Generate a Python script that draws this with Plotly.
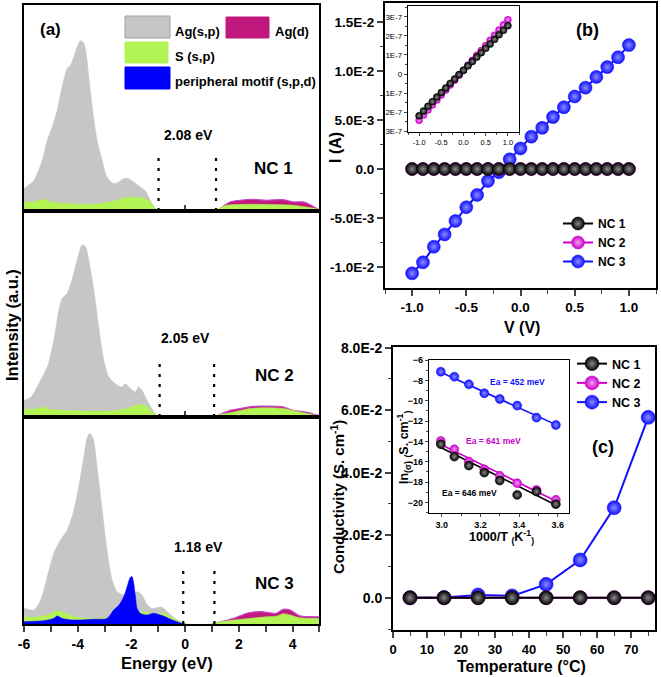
import plotly.graph_objects as go

W, H = 661, 677
def fx(p): return p / W
def fy(p): return 1 - p / H

FONT = "Liberation Sans"

# ---------------- panel (a): PDOS ----------------
nc1_agsp_E = [-6.00,-5.63,-5.32,-5.13,-4.95,-4.76,-4.58,-4.39,-4.27,-4.14,-4.02,-3.90,-3.77,-3.67,-3.59,-3.46,-3.28,-3.09,-2.91,-2.66,-2.47,-2.29,-2.10,-1.92,-1.67,-1.48,-1.36,-1.17,-1.05,-0.95]
nc1_agsp_I = [10.9,14.9,24.6,34.4,40.8,48.9,60.3,69.2,70.8,74.9,79.7,82.7,81.4,74.9,65.2,50.6,34.4,24.6,16.5,13.3,14.1,15.7,15.7,14.1,11.7,9.7,6.8,2.3,0.3,0.0]
nc1_s_E = [-6.0,-5.63,-5.26,-5.01,-4.39,-3.77,-3.15,-2.54,-2.16,-1.67,-1.36,-1.11,-1.02,-0.9,0.9,1.06,1.55,2.04,3.03,4.02,4.88,5.0]
nc1_s_I = [4.4,4.4,5.7,4.4,3.6,3.2,3.6,5.2,6.5,6.5,5.2,1.1,0.2,0,0,0.2,2.8,3.2,3.2,2.8,1.1,0.5]
nc1_agd_E = [1.0,1.18,1.67,2.04,2.54,3.03,3.65,4.02,4.39,4.70,4.97,5.0]
nc1_agd_I = [0,0.3,4.4,5.2,5.7,5.2,5.5,4.4,4.4,2.8,0.6,0.4]

nc2_agsp_E = [-6.0,-5.75,-5.32,-5.13,-4.89,-4.70,-4.58,-4.39,-4.21,-4.02,-3.83,-3.71,-3.59,-3.40,-3.22,-3.03,-2.84,-2.60,-2.35,-2.23,-2.04,-1.85,-1.73,-1.61,-1.42,-1.24,-1.11,-1.05,-0.95]
nc2_agsp_I = [8.0,9.5,19.4,24.3,37.3,51.9,57.5,60.1,66.6,76.2,83.5,82.7,76.2,61.6,43.8,27.6,19.4,16.2,14.6,16.2,13.8,12.2,14.6,13.0,8.1,4.1,1.6,0.8,0.0]
nc2_s_E = [-6.0,-5.63,-5.26,-5.01,-4.39,-3.77,-3.15,-2.54,-2.16,-1.79,-1.48,-1.24,-1.05,-0.95,1.0,1.18,1.80,2.42,3.03,3.65,4.27,4.88,5.0]
nc2_s_I = [4.1,3.6,4.9,3.6,3.2,2.9,2.8,3.2,4.1,5.7,5.7,2.4,0.8,0,0,0.8,2.4,4.1,4.5,4.1,2.4,0.8,0.5]
nc2_agd_E = [1.0,1.15,1.67,2.04,2.54,3.03,3.65,4.02,4.51,4.88,5.0]
nc2_agd_I = [0,0.5,3.2,4.1,5.2,5.3,4.9,3.2,2.4,1.1,0.8]

nc3_agsp_E = [-6.0,-5.63,-5.38,-5.13,-4.89,-4.64,-4.39,-4.14,-3.96,-3.77,-3.65,-3.55,-3.43,-3.28,-3.09,-2.91,-2.72,-2.53,-2.29,-2.04,-1.79,-1.61,-1.42,-1.24,-1.05,-0.86,-0.68,-0.43,-0.18,-0.06,0.05]
nc3_agsp_I = [7.6,6.8,11.6,22.9,34.1,40.6,45.4,55.1,66.3,80.8,89.7,92.1,89.7,76.0,55.1,35.7,21.3,15.6,14.0,13.2,15.6,14.0,9.5,7.5,7.8,8.1,6.0,3.2,1.1,0.3,0.0]
nc3_s_E = [-6.0,-5.63,-5.13,-4.76,-4.51,-4.14,-3.65,-3.15,-2.78,-2.4,-1.54,-1.36,-1.05,-0.80,-0.55,-0.18,-0.06,0.05,1.0,1.15,1.80,2.42,3.03,3.4,3.65,3.9,4.27,4.88,5.0]
nc3_s_I = [3.5,3.2,4.3,6.4,5.5,3.5,2.7,2.7,3.2,3.5,6.0,5.2,4.8,5.2,3.5,1.1,0.3,0,0,0.6,1.9,2.7,3.5,3.8,5.0,4.4,3.0,2.7,2.7]
nc3_agd_E = [1.0,1.1,1.8,2.3,2.79,3.40,3.65,3.90,4.27,4.6,5.0]
nc3_agd_I = [0,0.3,2.7,5.2,6.0,5.2,7.1,6.8,3.9,3.6,3.5]
nc3_per_E = [-6.0,-5.26,-4.89,-4.76,-4.58,-4.14,-3.4,-2.91,-2.66,-2.47,-2.29,-2.16,-2.04,-1.98,-1.92,-1.85,-1.79,-1.67,-1.42,-1.17,-0.93,-0.74,-0.55,-0.30,-0.12,0.0]
nc3_per_I = [1.1,1.6,2.7,3.9,2.7,1.9,2.3,2.7,6.8,9.0,13.0,18.0,22.5,22.9,20.0,13.0,7.5,5.2,4.3,5.2,4.3,3.5,2.3,1.1,0.3,0.0]

gap_lo = [-0.99, -0.95, -0.07]
gap_hi = [1.15, 1.08, 1.09]
gap_top = [28.6, 28.4, 27.7]
gap_labels = ["2.08 eV", "2.05 eV", "1.18 eV"]
nc_labels = ["NC 1", "NC 2", "NC 3"]
energy_ticks = [-6, -4, -2, 0, 2, 4]
energy_ticktext = ["-6", "-4", "-2", "0", "2", "4"]

# ---------------- panel (b): I-V ----------------
V = [-1.0,-0.9,-0.8,-0.7,-0.6,-0.5,-0.4,-0.3,-0.2,-0.1,0.0,0.1,0.2,0.3,0.4,0.5,0.6,0.7,0.8,0.9,1.0]
I_nc3 = [-0.01064,-0.00952,-0.00793,-0.00667,-0.0053,-0.0039,-0.00265,-0.00122,-0.00033,0.00099,0.0021,0.0033,0.0042,0.0053,0.0063,0.0074,0.0083,0.0094,0.0104,0.0114,0.01265]
I_nc1 = [-2.19e-7,-1.94e-7,-1.69e-7,-1.45e-7,-1.21e-7,-0.97e-7,-0.73e-7,-0.49e-7,-0.26e-7,-0.03e-7,0.20e-7,0.43e-7,0.66e-7,0.89e-7,1.12e-7,1.35e-7,1.58e-7,1.82e-7,2.06e-7,2.30e-7,2.54e-7]
I_nc2 = [-2.42e-7,-2.15e-7,-1.88e-7,-1.62e-7,-1.36e-7,-1.10e-7,-0.84e-7,-0.58e-7,-0.32e-7,-0.06e-7,0.20e-7,0.46e-7,0.72e-7,0.98e-7,1.24e-7,1.50e-7,1.77e-7,2.04e-7,2.31e-7,2.58e-7,2.85e-7]
b_yticks = [-0.01, -0.005, 0.0, 0.005, 0.01, 0.015]
b_yticktext = ["-1.0E-2", "-5.0E-3", "0.0", "5.0E-3", "1.0E-2", "1.5E-2"]
v_ticks = [-1.0, -0.5, 0.0, 0.5, 1.0]
v_ticktext = ["-1.0", "-0.5", "0.0", "0.5", "1.0"]
bi_yticks = [-3e-7, -2e-7, -1e-7, 0, 1e-7, 2e-7, 3e-7]
bi_yticktext = ["-3E-7", "-2E-7", "-1E-7", "0", "1E-7", "2E-7", "3E-7"]

# ---------------- panel (c): conductivity ----------------
T = [5, 15, 25, 35, 45, 55, 65, 75]
cond_nc3 = [0.0, 0.0001, 0.0009, 0.0006, 0.0043, 0.0121, 0.0288, 0.0577]
cond_nc2 = [0.0, 0.0, 0.00001, 0.00001, 0.00002, 0.00002, 0.00003, 0.00004]
cond_nc1 = [0.0, 0.0, 0.00001, 0.00001, 0.00001, 0.00002, 0.00002, 0.00003]
c_yticks = [0.0, 0.02, 0.04, 0.06, 0.08]
c_yticktext = ["0.0", "2.0E-2", "4.0E-2", "6.0E-2", "8.0E-2"]
c_xticks = [0, 10, 20, 30, 40, 50, 60, 70]

invT = [2.995, 3.065, 3.14, 3.22, 3.30, 3.39, 3.49, 3.59]
ln_nc3 = [-7.15, -7.64, -8.39, -9.27, -9.83, -10.48, -11.66, -12.38]
ln_nc2 = [-13.95, -14.77, -15.98, -16.73, -17.38, -18.10, -18.76, -19.74]
ln_nc1 = [-14.27, -15.49, -16.37, -17.06, -17.84, -19.25, -18.92, -20.16]
fit_x = [2.995, 3.59]
fit_nc3 = [-7.2, -12.35]
fit_nc2 = [-14.3, -19.85]
fit_nc1 = [-14.6, -20.25]
ci_xticks = [3.0, 3.2, 3.4, 3.6]
ci_xticktext = ["3.0", "3.2", "3.4", "3.6"]
ci_yticks = [-20, -18, -16, -14, -12, -10, -8, -6]

GRAY, GREEN, MAG, BLUE = "#c6c6c6", "#b2f454", "#c0187c", "#0000ff"
C_BLACK, C_MAG, C_BLUE = "#000000", "#cc00cc", "#1010ff"

fig = go.Figure()

def area(E, I, fill, xa, ya, lc=None, lw=0.6):
    fig.add_trace(go.Scatter(x=E, y=I, mode="lines", fill="tozeroy", fillcolor=fill,
                             line=dict(color=lc or fill, width=lw, shape="spline", smoothing=0.8),
                             xaxis=xa, yaxis=ya, showlegend=False, hoverinfo="skip"))

panels = [
    ("x", "y", nc1_agsp_E, nc1_agsp_I, nc1_s_E, nc1_s_I, nc1_agd_E, nc1_agd_I, None, None),
    ("x2", "y2", nc2_agsp_E, nc2_agsp_I, nc2_s_E, nc2_s_I, nc2_agd_E, nc2_agd_I, None, None),
    ("x3", "y3", nc3_agsp_E, nc3_agsp_I, nc3_s_E, nc3_s_I, nc3_agd_E, nc3_agd_I, nc3_per_E, nc3_per_I),
]
for k, (xa, ya, gE, gI, sE, sI, dE, dI, pE, pI) in enumerate(panels):
    area(gE, gI, GRAY, xa, ya)
    area(dE, dI, MAG, xa, ya, lc="#c848c8", lw=1.2)
    area(sE, sI, GREEN, xa, ya)
    if pE is not None:
        area(pE, pI, BLUE, xa, ya)
    for xv in (gap_lo[k], gap_hi[k]):
        fig.add_trace(go.Scatter(x=[xv, xv], y=[0, gap_top[k]], mode="lines",
                                 line=dict(color="black", width=2.2, dash="3px,7px"),
                                 xaxis=xa, yaxis=ya, showlegend=False, hoverinfo="skip"))

# ---- panel (b)
grad = {C_BLACK: "#8a8a8a", C_MAG: "#eea0ee", C_BLUE: "#8c8cff"}
for name, I, col, rank in [("NC 3", I_nc3, C_BLUE, 3), ("NC 2", I_nc2, C_MAG, 2), ("NC 1", I_nc1, C_BLACK, 1)]:
    fig.add_trace(go.Scatter(x=V, y=I, mode="lines+markers", name=name,
                             line=dict(color=col, width=2),
                             marker=dict(size=13, color=col, gradient=dict(type="radial", color=grad[col]),
                                         line=dict(width=0.5, color=col)),
                             xaxis="x4", yaxis="y4", legend="legend", legendrank=rank))
for I, col in [(I_nc2, C_MAG), (I_nc1, C_BLACK)]:
    fig.add_trace(go.Scatter(x=V, y=I, mode="lines+markers", line=dict(color=col, width=1),
                             marker=dict(size=7, color=col, gradient=dict(type="radial", color=grad[col]),
                                         line=dict(width=0.5, color=col)),
                             xaxis="x5", yaxis="y5", showlegend=False))

# ---- panel (c)
for name, cnd, col, rank in [("NC 3", cond_nc3, C_BLUE, 3), ("NC 2", cond_nc2, C_MAG, 2), ("NC 1", cond_nc1, C_BLACK, 1)]:
    fig.add_trace(go.Scatter(x=T, y=cnd, mode="lines+markers", name=name,
                             line=dict(color=col, width=2),
                             marker=dict(size=14, color=col, gradient=dict(type="radial", color=grad[col]),
                                         line=dict(width=0.5, color=col)),
                             xaxis="x6", yaxis="y6", legend="legend2", legendrank=rank))
for fy_, col in [(fit_nc3, C_BLUE), (fit_nc2, C_MAG), (fit_nc1, C_BLACK)]:
    fig.add_trace(go.Scatter(x=fit_x, y=fy_, mode="lines", line=dict(color=col, width=1.6),
                             xaxis="x7", yaxis="y7", showlegend=False))
for lv, col in [(ln_nc3, C_BLUE), (ln_nc2, C_MAG), (ln_nc1, C_BLACK)]:
    fig.add_trace(go.Scatter(x=invT, y=lv, mode="markers",
                             marker=dict(size=9, color=col, gradient=dict(type="radial", color=grad[col]),
                                         line=dict(width=0.5, color=col)),
                             xaxis="x7", yaxis="y7", showlegend=False))

def tf(size, bold=True):
    return dict(family=FONT, size=size, color="black", weight="bold" if bold else "normal")

frame = dict(showline=True, linecolor="black", mirror=True, showgrid=False, zeroline=False, automargin=False)

ax_a_x = [fx(24), fx(319.4)]
fig.update_layout(
    xaxis=dict(**frame, linewidth=2, domain=ax_a_x, anchor="y", range=[-6, 5], tickvals=[0],
               ticks="inside", ticklen=6, tickwidth=1.5, showticklabels=False),
    yaxis=dict(**frame, linewidth=2, domain=[fy(211), fy(5)], anchor="x", range=[0, 100], showticklabels=False, ticks=""),
    xaxis2=dict(**frame, linewidth=2, domain=ax_a_x, anchor="y2", range=[-6, 5], tickvals=[0],
                ticks="inside", ticklen=6, tickwidth=1.5, showticklabels=False),
    yaxis2=dict(**frame, linewidth=2, domain=[fy(417), fy(211)], anchor="x2", range=[0, 100], showticklabels=False, ticks=""),
    xaxis3=dict(**frame, linewidth=2, domain=ax_a_x, anchor="y3", range=[-6, 5], tickvals=energy_ticks,
                ticktext=energy_ticktext, ticks="outside", ticklen=6, tickwidth=1.5, tickfont=tf(14),
                minor=dict(dtick=1, tick0=0, ticks="outside", ticklen=6, tickwidth=1.5)),
    yaxis3=dict(**frame, linewidth=2, domain=[fy(624), fy(417)], anchor="x3", range=[0, 100], showticklabels=False, ticks=""),

    xaxis4=dict(**frame, linewidth=2, domain=[fx(385), fx(656)], anchor="y4", range=[-1.25, 1.25],
                tickvals=v_ticks, ticktext=v_ticktext, ticks="outside", ticklen=6, tickwidth=1.5, tickfont=tf(13.5),
                minor=dict(dtick=0.25, tick0=0, ticks="outside", ticklen=3.5, tickwidth=1.2)),
    yaxis4=dict(**frame, linewidth=2, domain=[fy(288), fy(3)], anchor="x4", range=[-0.01214, 0.01694],
                tickvals=b_yticks, ticktext=b_yticktext, ticks="outside", ticklen=6, tickwidth=1.5, tickfont=tf(13.5),
                minor=dict(dtick=0.0025, tick0=0, ticks="outside", ticklen=3.5, tickwidth=1.2)),
    xaxis5=dict(**frame, linewidth=1.2, domain=[fx(408), fx(519)], anchor="y5", range=[-1.25, 1.25],
                tickvals=v_ticks, ticktext=v_ticktext, ticks="outside", ticklen=3, tickwidth=1, tickfont=tf(7.5, False),
                minor=dict(dtick=0.25, tick0=0, ticks="outside", ticklen=2, tickwidth=1)),
    yaxis5=dict(**frame, linewidth=1.2, domain=[fy(132), fy(6)], anchor="x5", range=[-3.04e-7, 3.57e-7],
                tickvals=bi_yticks, ticktext=bi_yticktext, ticks="outside", ticklen=3, tickwidth=1, tickfont=tf(8, False),
                minor=dict(dtick=0.5e-7, tick0=0, ticks="outside", ticklen=2, tickwidth=1)),

    xaxis6=dict(**frame, linewidth=2, domain=[fx(393), fx(655)], anchor="y6", range=[0, 77],
                tickvals=c_xticks, ticks="outside", ticklen=6, tickwidth=1.5, tickfont=tf(13),
                minor=dict(dtick=5, tick0=0, ticks="outside", ticklen=3.5, tickwidth=1.2)),
    yaxis6=dict(**frame, linewidth=2, domain=[fy(630), fy(347)], anchor="x6", range=[-0.0103, 0.0802],
                tickvals=c_yticks, ticktext=c_yticktext, ticks="outside", ticklen=6, tickwidth=1.5, tickfont=tf(14),
                minor=dict(dtick=0.01, tick0=0, ticks="outside", ticklen=3.5, tickwidth=1.2)),
    xaxis7=dict(**frame, linewidth=1.2, domain=[fx(429), fx(569)], anchor="y7", range=[2.934, 3.658],
                tickvals=ci_xticks, ticktext=ci_xticktext, ticks="outside", ticklen=3, tickwidth=1, tickfont=tf(9),
                minor=dict(dtick=0.1, tick0=0, ticks="outside", ticklen=2, tickwidth=1)),
    yaxis7=dict(**frame, linewidth=1.2, domain=[fy(513), fy(360)], anchor="x7", range=[-21.03, -6.0],
                tickvals=ci_yticks, ticks="outside", ticklen=3, tickwidth=1, tickfont=tf(9),
                minor=dict(dtick=1, tick0=0, ticks="outside", ticklen=2, tickwidth=1)),

    legend=dict(x=fx(558), y=fy(209), xanchor="left", yanchor="top", font=tf(12),
                bgcolor="rgba(0,0,0,0)", tracegroupgap=0),
    legend2=dict(x=fx(572), y=fy(349), xanchor="left", yanchor="top", font=tf(12.5),
                 bgcolor="rgba(0,0,0,0)", tracegroupgap=0),
    width=W, height=H, margin=dict(l=0, r=0, t=0, b=0, pad=0, autoexpand=False),
    paper_bgcolor="white", plot_bgcolor="white",
)

ann = []
def A(text, x, y, size, color="black", bold=True, angle=0, xanchor="center"):
    ann.append(dict(text=text, x=fx(x), y=fy(y), xref="paper", yref="paper", showarrow=False,
                    font=tf(size, bold) | dict(color=color), textangle=angle, xanchor=xanchor, yanchor="middle"))

A("(a)", 50, 29, 17)
gap_pos = [(188, 135), (185, 338), (198, 547)]
nc_pos = [(273, 168), (274, 375), (274, 583)]
for k in range(3):
    A(gap_labels[k], *gap_pos[k], 14)
    A(nc_labels[k], *nc_pos[k], 17)
A("Energy (eV)", 167, 663, 16.5)
A("Intensity (a.u.)", 12, 325, 16.5, angle=-90)

# panel (a) legend
shapes = []
for (x0, y0, x1, y1, col) in [(125, 16, 170, 38, GRAY), (226, 17, 269, 38, MAG), (125, 42, 168, 63, GREEN), (125, 67, 170, 89, BLUE)]:
    shapes.append(dict(type="rect", xref="paper", yref="paper", x0=fx(x0), x1=fx(x1), y0=fy(y1), y1=fy(y0),
                       fillcolor=col, line=dict(color="#a0a0a0" if col == GRAY else col, width=1)))
A("Ag(s,p)", 173, 32, 13, xanchor="left")
A("Ag(d)", 273, 32, 13, xanchor="left")
A("S (s,p)", 173, 56, 13, xanchor="left")
A("peripheral motif (s,p,d)", 173, 81, 13, xanchor="left")

A("(b)", 587, 30, 18)
A("V (V)", 522, 327, 16)
A("I (A)", 336, 148, 16, angle=-90)

A("(c)", 603, 447, 18)
A("Temperature (°C)", 521, 666, 16)
A("Conductivity (S. cm<sup>-1</sup>)", 337, 497, 15, angle=-90)
A("1000/T <sub>(</sub>K<sup>-1</sup><sub>)</sub>", 501, 537, 12.5)
A("ln<sub>(σ)</sub> <sub>(</sub>S. cm<sup>-1</sup><sub>)</sub>", 404, 448, 12.5, angle=-90)
A("Ea = 452 meV", 517, 382, 8.5, color=C_BLUE)
A("Ea = 641 meV", 493, 441, 8.5, color=C_MAG)
A("Ea = 646 meV", 469, 493, 8.5, color=C_BLACK)

fig.update_layout(annotations=ann, shapes=shapes)
fig.write_html("out.html", config={"displayModeBar": False},
               post_script="document.body.style.margin='0';document.body.style.overflow='hidden';")
